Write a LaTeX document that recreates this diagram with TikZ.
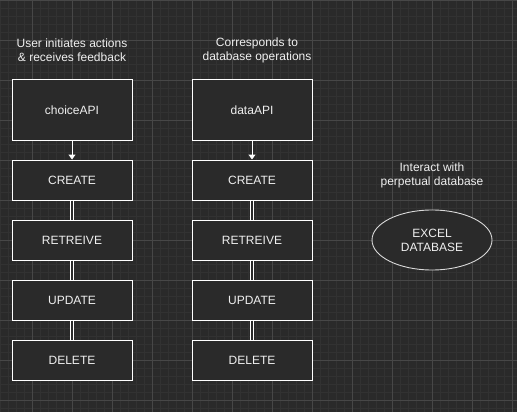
\documentclass[tikz,border=0pt]{standalone}
\usepackage{fontspec}
\setmainfont{Liberation Sans}
\usetikzlibrary{arrows.meta,shapes.geometric}
\definecolor{bgc}{HTML}{2A2A2A}
\definecolor{minorc}{HTML}{323232}
\definecolor{majorc}{HTML}{474747}
\definecolor{txtc}{HTML}{F0F0F0}
\tikzset{
  box/.style={draw=white, line width=1pt, fill=bgc, minimum width=120pt, text=txtc, font=\fontsize{12}{14}\selectfont, inner sep=0pt},
  apibox/.style={box, minimum height=60pt},
  opbox/.style={box, minimum height=40pt},
  note/.style={text=txtc, align=center, font=\fontsize{12}{14}\selectfont, inner sep=0pt},
  dbl/.style={draw=white, line width=1pt, double=bgc, double distance=2pt},
  arr/.style={draw=white, line width=1pt, -{Triangle[width=7pt,length=5pt]}},
  dbell/.style={ellipse, draw=white!85!black, line width=0.9pt, fill=bgc, minimum width=120pt, minimum height=60pt, inner sep=0pt, text=txtc, align=center, font=\fontsize{12}{14}\selectfont},
  minorgrid/.style={draw=minorc, line width=0.7pt},
  majorgrid/.style={draw=majorc, line width=0.8pt}
}
\begin{document}
\begin{tikzpicture}[x=1pt,y=-1pt]
\fill[bgc] (0,0) rectangle (517,412);
\useasboundingbox (0,0) rectangle (517,412);
\foreach \x in {0,8,...,512} \draw[minorgrid] (\x,0) -- (\x,412);
\foreach \y in {0,8,...,408} \draw[minorgrid] (0,\y) -- (517,\y);
\foreach \x in {32,72,...,512} \draw[majorgrid] (\x,0) -- (\x,412);
\foreach \y in {0,40,...,400} \draw[majorgrid] (0,\y) -- (517,\y);

\node[note] (lnote) at (72,50) {User initiates actions\\\& receives feedback};
\node[note] (mnote) at (257,50) {Corresponds to\\database operations};
\node[note] (rnote) at (432,175) {Interact with\\perpetual database};

\node[apibox] (choice) at (72,110) {choiceAPI};
\node[opbox] (c1) at (72,180) {CREATE};
\node[opbox] (r1) at (72,240) {RETREIVE};
\node[opbox] (u1) at (72,300) {UPDATE};
\node[opbox] (d1) at (72,360) {DELETE};

\node[apibox] (data) at (252,110) {dataAPI};
\node[opbox] (c2) at (252,180) {CREATE};
\node[opbox] (r2) at (252,240) {RETREIVE};
\node[opbox] (u2) at (252,300) {UPDATE};
\node[opbox] (d2) at (252,360) {DELETE};

\node[dbell] (excel) at (432,240) {EXCEL\\DATABASE};

\draw[arr] (choice) -- (c1);
\draw[arr] (data) -- (c2);
\draw[dbl] (c1) -- (r1);
\draw[dbl] (r1) -- (u1);
\draw[dbl] (u1) -- (d1);
\draw[dbl] (c2) -- (r2);
\draw[dbl] (r2) -- (u2);
\draw[dbl] (u2) -- (d2);
\end{tikzpicture}
\end{document}
